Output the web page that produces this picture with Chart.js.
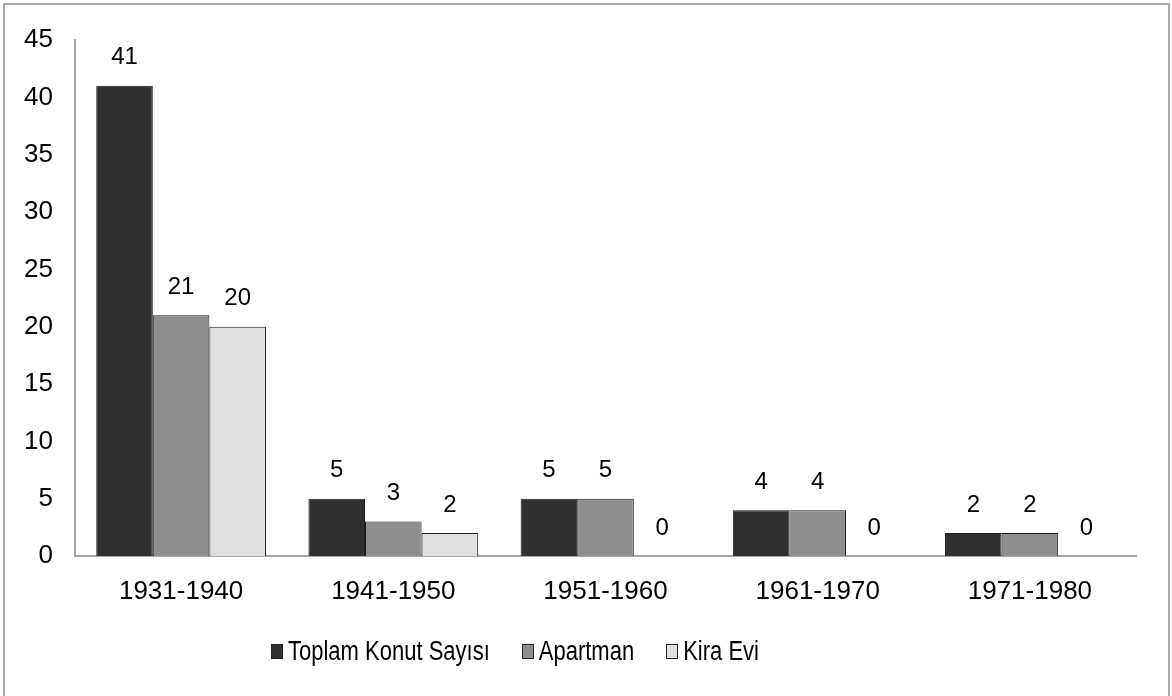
<!DOCTYPE html>
<html>
<head>
<meta charset="utf-8">
<script src="https://cdn.jsdelivr.net/npm/chart.js@4.4.1/dist/chart.umd.min.js"></script>
<style>
  html, body { margin: 0; padding: 0; background: #fff; }
  #wrap { position: relative; width: 1172px; height: 696px; overflow: hidden; }
  #frame {
    position: absolute; left: 3px; top: 3px; width: 1167px; height: 720px;
    border: 2px solid #ababab; box-sizing: border-box;
  }
  #chart { position: absolute; left: 0; top: 0; }
  #legend {
    position: absolute; left: 271px; top: 638px; height: 26px;
    display: flex; align-items: center;
    font-family: "Liberation Sans", Arial, sans-serif; font-size: 22px; color: #000;
  }
  #legend .item { display: flex; align-items: center; margin-right: 32px; }
  #legend .box { width: 12px; height: 15px; box-sizing: border-box; border: 1px solid #222; margin-right: 5px; }
  #legend .txt { display: inline-block; transform: scaleY(1.27); transform-origin: center; white-space: nowrap; }
</style>
</head>
<body>
<div id="wrap">
  <div id="frame"></div>
  <canvas id="chart" width="1172" height="696"></canvas>
  <div id="legend"></div>
</div>
<script>
// Housing counts by decade
const decades = ['1931-1940', '1941-1950', '1951-1960', '1961-1970', '1971-1980'];
const seriesNames = ['Toplam Konut Sayısı', 'Apartman', 'Kira Evi'];
const toplamKonut = [41, 5, 5, 4, 2];
const apartman = [21, 3, 5, 4, 2];
const kiraEvi = [20, 2, 0, 0, 0];
const yTicks = [0, 5, 10, 15, 20, 25, 30, 35, 40, 45];

const fills = ['#303030', '#8e8e8e', '#e0e0e0'];
const FONT = '"Liberation Sans", Arial, sans-serif';

// Value labels above each bar
const valueLabels = {
  id: 'valueLabels',
  afterDatasetsDraw(chart) {
    const ctx = chart.ctx;
    ctx.save();
    ctx.font = '24px ' + FONT;
    ctx.fillStyle = '#000';
    ctx.textAlign = 'center';
    ctx.textBaseline = 'middle';
    chart.data.datasets.forEach((ds, i) => {
      const meta = chart.getDatasetMeta(i);
      meta.data.forEach((bar, j) => {
        ctx.fillText(String(ds.data[j]), bar.x, bar.y - 28);
      });
    });
    ctx.restore();
  }
};

const chart = new Chart(document.getElementById('chart'), {
  type: 'bar',
  data: {
    labels: decades,
    datasets: [toplamKonut, apartman, kiraEvi].map((values, i) => ({
      label: seriesNames[i],
      data: values,
      backgroundColor: fills[i],
      borderColor: '#1e1e1e',
      borderWidth: 1,
      categoryPercentage: 0.8,
      barPercentage: 1.0
    }))
  },
  options: {
    responsive: false,
    animation: false,
    events: [],
    layout: { padding: { top: 40, right: 36, bottom: 90, left: 0 } },
    plugins: { legend: { display: false }, tooltip: { enabled: false } },
    scales: {
      x: {
        grid: { display: false, drawTicks: false },
        border: { display: true, color: '#a6a6a6', width: 2 },
        ticks: { color: '#000', font: { family: FONT, size: 26 }, padding: 20 },
        afterFit(scale) { scale.height = 50; }
      },
      y: {
        min: 0, max: 45,
        afterBuildTicks(scale) { scale.ticks = yTicks.map(v => ({ value: v })); },
        grid: { display: false, drawTicks: false },
        border: { display: true, color: '#a6a6a6', width: 2 },
        ticks: { color: '#000', font: { family: FONT, size: 26 }, padding: 22 },
        afterFit(scale) { scale.width = 75; }
      }
    }
  },
  plugins: [valueLabels]
});

// Legend built from the datasets
const legend = document.getElementById('legend');
chart.data.datasets.forEach(ds => {
  const item = document.createElement('div');
  item.className = 'item';
  const box = document.createElement('span');
  box.className = 'box';
  box.style.background = ds.backgroundColor;
  const txt = document.createElement('span');
  txt.className = 'txt';
  txt.textContent = ds.label;
  item.appendChild(box);
  item.appendChild(txt);
  legend.appendChild(item);
});
</script>
</body>
</html>
